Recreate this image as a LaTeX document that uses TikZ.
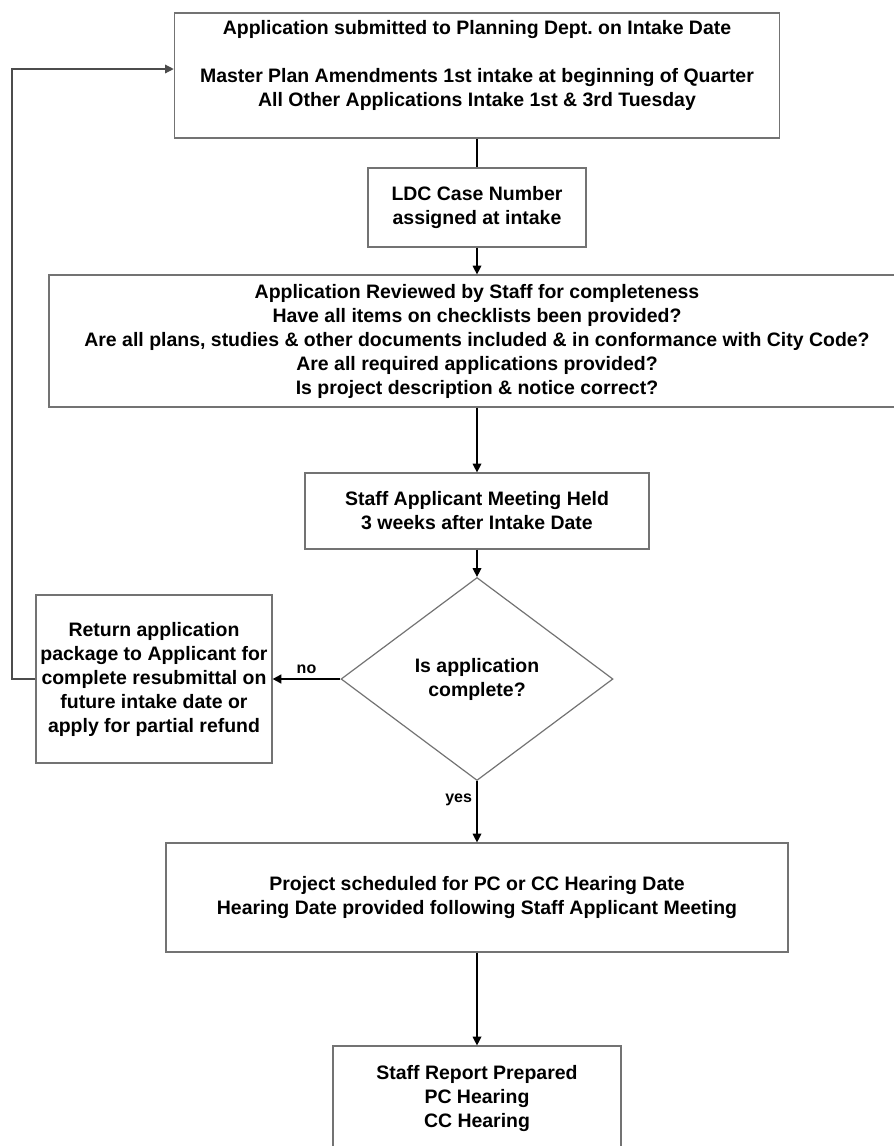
\documentclass[tikz,border=0pt]{standalone}
\usepackage{fontspec}
\setmainfont{Liberation Sans}
\usetikzlibrary{shapes.geometric, arrows.meta}

\begin{document}
\begin{tikzpicture}[x=0.75pt, y=-0.75pt,
    box/.style={draw=black!55, line width=0.9pt, align=center, inner sep=0pt,
        font=\bfseries\fontsize{14.6}{18}\selectfont},
    flow/.style={draw=black, line width=0.9pt, -{Triangle[length=6.5pt, width=6.5pt]}},
    tag/.style={font=\bfseries\fontsize{12}{14}\selectfont}]
    \useasboundingbox (0,0) rectangle (893,1146);

    % Intake box
    \node[box, minimum width=454pt, minimum height=93.75pt] (intake) at (477,75.5)
        {Application submitted to Planning Dept.\ on Intake Date\\[18pt]
         Master Plan Amendments 1st intake at beginning of Quarter\\
         All Other Applications Intake 1st \& 3rd Tuesday\\ \mbox{}};

    % Case number
    \node[box, minimum width=163.5pt, minimum height=59.25pt] (caseno) at (477,207.5)
        {LDC Case Number\\assigned at intake};

    % Completeness review
    \node[box, minimum width=642pt, minimum height=99pt] (review) at (477,341)
        {Application Reviewed by Staff for completeness\\
         Have all items on checklists been provided?\\
         Are all plans, studies \& other documents included \& in conformance with City Code?\\
         Are all required applications provided?\\
         Is project description \& notice correct?};

    % Meeting
    \node[box, minimum width=258pt, minimum height=57pt] (meeting) at (477,511)
        {Staff Applicant Meeting Held\\3 weeks after Intake Date};

    % Decision
    \node[box, diamond, minimum width=204pt, minimum height=152.25pt] (check) at (477,679)
        {Is application\\complete?};

    % Return package
    \node[box, minimum width=177pt, minimum height=126pt] (ret) at (154,679)
        {Return application\\package to Applicant for\\complete resubmittal on\\
         future intake date or\\apply for partial refund};

    % Scheduling
    \node[box, minimum width=466.5pt, minimum height=81.75pt] (sched) at (477,897.5)
        {Project scheduled for PC or CC Hearing Date\\
         Hearing Date provided following Staff Applicant Meeting};

    % Report
    \node[box, minimum width=216pt, minimum height=78pt] (report) at (477,1098)
        {Staff Report Prepared\\PC Hearing\\CC Hearing};

    % Connectors
    \draw[line width=0.9pt] (intake) -- (caseno);
    \draw[flow] (caseno) -- (review);
    \draw[flow] (review) -- (meeting);
    \draw[flow] (meeting) -- (check);
    \draw[flow, line width=1.6pt] (check.west) -- node[tag, above] {no} (ret.east);
    \draw[flow] (check.south) -- node[tag, left, pos=0.3] {yes} (sched.north);
    \draw[flow] (sched) -- (report);

    % Loop back to intake
    \coordinate (corner) at (12,69);
    \draw[flow, draw=black!70] (ret.west) -| (corner) -- (corner -| intake.west);
\end{tikzpicture}
\end{document}
